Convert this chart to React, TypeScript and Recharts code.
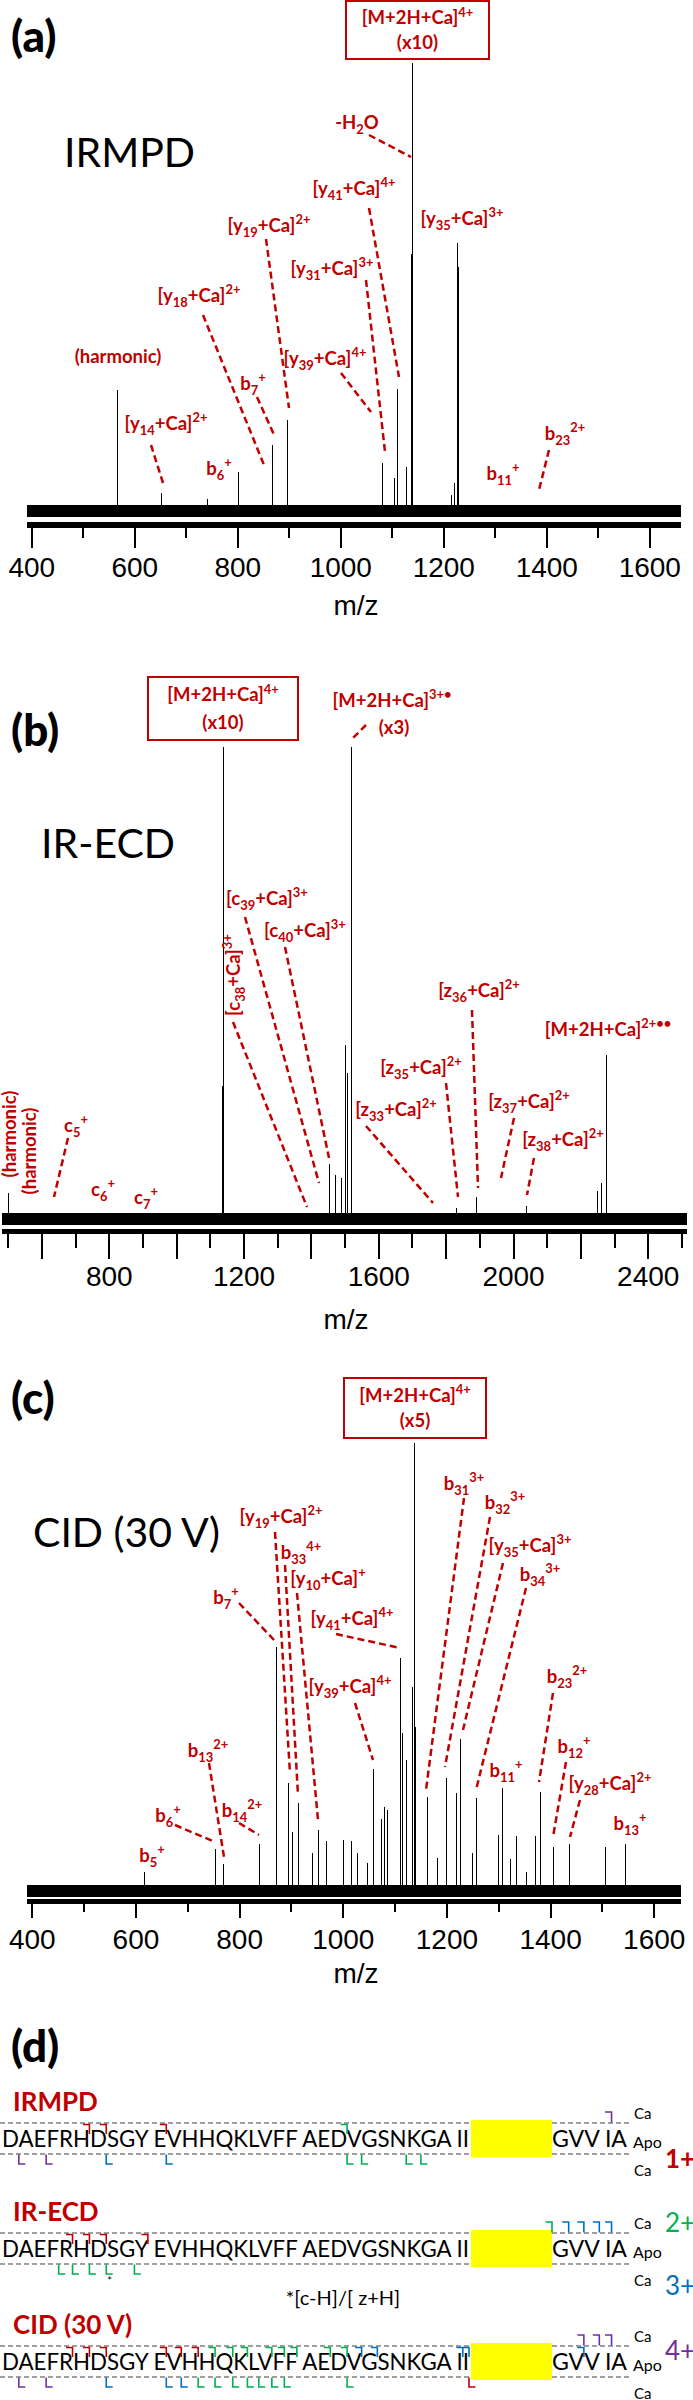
import React from 'react'
import { ComposedChart, Bar, XAxis, YAxis, ReferenceArea } from 'recharts'

// Three tandem-MS spectra of Ca-bound Abeta42 + sequence coverage map

const RED = '#c00000'
const GREEN = '#00b050'
const BLUE = '#0070c0'
const PURPLE = '#7030a0'
const LABEL_FONT = "Lato, 'Noto Sans', sans-serif"
const AXIS_FONT = "'Liberation Sans', Arial, sans-serif"

// (a) IRMPD — m/z and relative intensity (precursor x10 = 100)
const irmpdMz = [552, 566, 652, 684, 741, 754, 801, 851, 868, 886, 897, 1055, 1059, 1081, 1105, 1110, 1128, 1134.5, 1137, 1139, 1215, 1221, 1227, 1228.5, 1307, 1379]
const irmpdIntensity = [4.2, 28, 5.3, 3.7, 4.0, 6.4, 9.9, 9.7, 15.9, 4.8, 21.4, 7.7, 20.7, 11.9, 8.6, 28.2, 11.0, 77.5, 58, 100, 4.8, 7.5, 60.4, 55, 4.8, 3.3]
const irmpdTicks = [400, 500, 600, 700, 800, 900, 1000, 1100, 1200, 1300, 1400, 1500, 1600]
const irmpdMajor = [400, 600, 800, 1000, 1200, 1400, 1600]
const irmpdTickLabels = [400, 600, 800, 1000, 1200, 1400, 1600]

// (b) IR-ECD
const ecdMz = [500, 630, 764, 1136.5, 1139, 1141, 1420, 1446, 1453, 1472, 1490, 1502, 1508, 1519, 1761, 1831, 1891, 1960, 2038, 2250, 2261, 2276, 2281]
const ecdIntensity = [6.7, 2.7, 3.3, 29, 100, 27, 6.9, 10.5, 12.8, 10.5, 9.8, 37.7, 31.8, 100, 3.1, 3.6, 5.9, 6.7, 4.0, 7.1, 8.8, 35.6, 18.2]
const ecdTicks = [500, 600, 700, 800, 900, 1000, 1100, 1200, 1300, 1400, 1500, 1600, 1700, 1800, 1900, 2000, 2100, 2200, 2300, 2400, 2500]
const ecdMajor = [600, 800, 1000, 1200, 1400, 1600, 1800, 2000, 2200, 2400]
const ecdTickLabels = [800, 1200, 1600, 2000, 2400]

// (c) CID (30 V)
const cidMz = [617, 753, 769, 824, 838, 871, 895, 902, 913, 940, 952, 967, 1001, 1016, 1027, 1047, 1059, 1074, 1080, 1086, 1110, 1115, 1122, 1133, 1138, 1140, 1162, 1182, 1199, 1219, 1227, 1250, 1257, 1300, 1307, 1323, 1334, 1353, 1371, 1380, 1406, 1436, 1506, 1544]
const cidIntensity = [5.5, 10.6, 7.3, 5.9, 11.7, 55.1, 25.1, 14.3, 20.7, 9.7, 14.8, 12.3, 12.6, 12.3, 9.7, 7.5, 28.2, 17.2, 19.8, 19.2, 52.6, 36.1, 30.2, 46.3, 100, 37.4, 22.0, 8.6, 26.2, 22.9, 34.8, 9.7, 21.8, 13.7, 24.0, 8.4, 13.4, 5.5, 13.4, 23.1, 11.0, 11.7, 11.0, 11.7]
const cidTicks = [400, 500, 600, 700, 800, 900, 1000, 1100, 1200, 1300, 1400, 1500, 1600]
const cidMajor = [400, 600, 800, 1000, 1200, 1400, 1600]
const cidTickLabels = [400, 600, 800, 1000, 1200, 1400, 1600]

// (d) cleavage sites: [site after residue n, charge]
type Cut = [number, number]
const irmpdNApo: Cut[] = [[6, 1], [7, 1], [11, 1], [23, 2]]
const irmpdNCa: Cut[] = [[41, 4]]
const irmpdCCa: Cut[] = [[1, 4], [3, 4], [7, 3], [11, 3], [23, 2], [24, 2], [27, 2], [28, 2]]
const ecdNApo: Cut[] = [[5, 1], [6, 1], [7, 1], [10, 1]]
const ecdNCa: Cut[] = [[37, 2], [38, 3], [39, 3], [40, 3], [41, 3]]
const ecdCCa: Cut[] = [[4, 2], [5, 2], [6, 2], [7, 2], [9, 2]]
const cidNApo: Cut[] = [[5, 1], [6, 1], [7, 1], [11, 1], [12, 1], [13, 1], [14, 2], [15, 2], [16, 2], [18, 2], [19, 2], [20, 2], [22, 2], [23, 2], [24, 3], [25, 3], [31, 3], [32, 3], [39, 3]]
const cidNCa: Cut[] = [[39, 4], [40, 4], [41, 4]]
const cidCCa: Cut[] = [[1, 4], [3, 4], [7, 3], [11, 3], [12, 3], [13, 2], [14, 2], [15, 2], [16, 2], [17, 2], [18, 2], [19, 2], [23, 2], [32, 1]]

const SEQ_MAIN = 'DAEFRHDSGY EVHHQKLVFF AEDVGSNKGA II'
const SEQ_TAIL = 'GVV IA'

const chargeColor: Record<number, string> = { 1: RED, 2: GREEN, 3: BLUE, 4: PURPLE }

type Layout = {
  top: number
  height: number
  plotTop: number
  zeroY: number
  axisY: number
  left: number
  right: number
  domain: [number, number]
  axisWidth: number
  majorLen: number
  minorLen: number
  labelDy: number
  noise: number
}

const layoutA: Layout = { top: 0, height: 600, plotTop: 63, zeroY: 517, axisY: 525, left: 27.4, right: 12.3, domain: [391.5, 1660], axisWidth: 6, majorLen: 20, minorLen: 10, labelDy: 42, noise: 2.6 }
const layoutB: Layout = { top: 700, height: 600, plotTop: 747, zeroY: 1225, axisY: 1231.5, left: 2.2, right: 6, domain: [482, 2515], axisWidth: 5, majorLen: 25, minorLen: 14, labelDy: 44.5, noise: 2.5 }
const layoutC: Layout = { top: 1400, height: 580, plotTop: 1443, zeroY: 1897, axisY: 1901.5, left: 27.4, right: 12.3, domain: [390.5, 1651], axisWidth: 5, majorLen: 14, minorLen: 8, labelDy: 37.5, noise: 2.6 }

type SpectrumProps = {
  mz: number[]
  intensity: number[]
  ticks: number[]
  majors: number[]
  labels: number[]
  layout: Layout
}

function Spectrum({ mz, intensity, ticks, majors, labels, layout }: SpectrumProps) {
  const data = mz.map((m, i) => ({ mz: m, intensity: intensity[i] }))
  const pxPerUnit = (layout.zeroY - layout.plotTop) / 100
  const yMin = -(layout.axisY - layout.zeroY) / pxPerUnit
  const xAxisHeight = 60
  const marginBottom = layout.height - (layout.axisY - layout.top) - xAxisHeight

  const renderTick = (props: any) => {
    const { x, y, payload } = props
    const v = payload.value
    const y0 = y + layout.axisWidth / 2
    const len = majors.includes(v) ? layout.majorLen : layout.minorLen
    return (
      <g>
        <line x1={x} x2={x} y1={y0} y2={y0 + len} stroke="#000" strokeWidth={2} />
        {labels.includes(v) && (
          <text x={x} y={y + layout.labelDy + 10} textAnchor="middle" fontSize={28} fontFamily={AXIS_FONT} fill="#000">
            {v}
          </text>
        )}
      </g>
    )
  }

  return (
    <div style={{ position: 'absolute', left: 0, top: layout.top }}>
      <ComposedChart
        width={693}
        height={layout.height}
        data={data}
        style={{ shapeRendering: 'crispEdges' }}
        margin={{ top: layout.plotTop - layout.top, right: layout.right, bottom: marginBottom, left: layout.left }}
      >
        <XAxis
          dataKey="mz"
          type="number"
          domain={layout.domain}
          allowDataOverflow
          ticks={ticks}
          interval={0}
          tick={renderTick}
          tickLine={false}
          tickSize={0}
          tickMargin={0}
          axisLine={{ stroke: '#000', strokeWidth: layout.axisWidth }}
          height={xAxisHeight}
        />
        <YAxis hide width={0} type="number" domain={[yMin, 100]} allowDataOverflow />
        <ReferenceArea x1={layout.domain[0]} x2={layout.domain[1]} y1={0} y2={layout.noise} fill="#000" fillOpacity={1} stroke="none" />
        <Bar dataKey="intensity" fill="#000" barSize={2} isAnimationActive={false} />
      </ComposedChart>
    </div>
  )
}

type RichProps = { t: string; x: number; y: number; size?: number; color?: string; weight?: number; rot?: number; anchor?: 'start' | 'middle' | 'end' }

// "_{..}" = subscript, "^{..}" = superscript
function Rich({ t, x, y, size = 18.5, color = RED, weight = 700, rot = 0, anchor = 'middle' }: RichProps) {
  const parts = t.split(/(_\{[^}]*\}|\^\{[^}]*\})/).filter((p) => p !== '')
  let shift = 0
  const spans = parts.map((p, i) => {
    let target = 0
    let txt = p
    let fs: number | undefined
    if (p.startsWith('_{')) {
      target = size * 0.28
      txt = p.slice(2, -1)
      fs = size * 0.7
    } else if (p.startsWith('^{')) {
      target = -size * 0.4
      txt = p.slice(2, -1)
      fs = size * 0.7
    }
    const dy = target - shift
    shift = target
    return (
      <tspan key={i} dy={dy} fontSize={fs}>
        {txt}
      </tspan>
    )
  })
  return (
    <text
      x={x}
      y={y + size * 0.3}
      textAnchor={anchor}
      fontSize={size}
      fontWeight={weight}
      fill={color}
      fontFamily={LABEL_FONT}
      transform={rot ? `rotate(${rot} ${x} ${y})` : undefined}
    >
      {spans}
    </text>
  )
}

type Ann = { t: string; x: number; y: number; rot?: number; lead?: [number, number, number, number] }

const annA: Ann[] = [
  { t: '-H_{2}O', x: 357, y: 123, lead: [369, 135, 411, 157] },
  { t: '[y_{41}+Ca]^{4+}', x: 354, y: 189, lead: [369, 208, 399, 377] },
  { t: '[y_{35}+Ca]^{3+}', x: 462, y: 219 },
  { t: '[y_{19}+Ca]^{2+}', x: 269, y: 226, lead: [266, 239, 289, 408] },
  { t: '[y_{31}+Ca]^{3+}', x: 332, y: 269, lead: [366, 280, 385, 452] },
  { t: '[y_{18}+Ca]^{2+}', x: 199, y: 296, lead: [203, 315, 264, 465] },
  { t: '(harmonic)', x: 118, y: 357 },
  { t: 'b_{7}^{+}', x: 253, y: 384, lead: [257, 397, 275, 437] },
  { t: '[y_{39}+Ca]^{4+}', x: 325, y: 359, lead: [341, 373, 371, 412] },
  { t: '[y_{14}+Ca]^{2+}', x: 166, y: 424, lead: [151, 445, 163, 483] },
  { t: 'b_{6}^{+}', x: 219, y: 469 },
  { t: 'b_{11}^{+}', x: 503, y: 474 },
  { t: 'b_{23}^{2+}', x: 565, y: 434, lead: [549, 450, 539, 490] },
]

const annB: Ann[] = [
  { t: '[M+2H+Ca]^{3+•}', x: 392, y: 701 },
  { t: '(x3)', x: 394, y: 728, lead: [366, 725, 352, 739] },
  { t: '[c_{39}+Ca]^{3+}', x: 267, y: 899, lead: [245, 917, 319, 1183] },
  { t: '[c_{40}+Ca]^{3+}', x: 305, y: 931, lead: [285, 947, 329, 1158] },
  { t: '[c_{38}+Ca]^{3+}', x: 234, y: 975, rot: -90, lead: [233, 1022, 307, 1207] },
  { t: '[z_{36}+Ca]^{2+}', x: 479, y: 991, lead: [472, 1010, 478, 1188] },
  { t: '[M+2H+Ca]^{2+••}', x: 608, y: 1030 },
  { t: '[z_{35}+Ca]^{2+}', x: 421, y: 1068, lead: [446, 1083, 458, 1197] },
  { t: '[z_{33}+Ca]^{2+}', x: 396, y: 1110, lead: [366, 1126, 433, 1203] },
  { t: '[z_{37}+Ca]^{2+}', x: 529, y: 1102, lead: [514, 1118, 501, 1178] },
  { t: '[z_{38}+Ca]^{2+}', x: 563, y: 1140, lead: [534, 1158, 527, 1195] },
  { t: '(harmonic)', x: 10, y: 1134, rot: -90 },
  { t: '(harmonic)', x: 30, y: 1151, rot: -90 },
  { t: 'c_{5}^{+}', x: 76, y: 1126, lead: [68, 1138, 54, 1197] },
  { t: 'c_{6}^{+}', x: 103, y: 1190 },
  { t: 'c_{7}^{+}', x: 146, y: 1198 },
]

const annC: Ann[] = [
  { t: 'b_{31}^{3+}', x: 464, y: 1484, lead: [464, 1498, 426, 1790] },
  { t: 'b_{32}^{3+}', x: 505, y: 1503, lead: [490, 1517, 445, 1767] },
  { t: '[y_{35}+Ca]^{3+}', x: 530, y: 1546, lead: [503, 1563, 463, 1730] },
  { t: 'b_{34}^{3+}', x: 540, y: 1575, lead: [526, 1588, 476, 1790] },
  { t: '[y_{19}+Ca]^{2+}', x: 281, y: 1517, lead: [275, 1532, 290, 1773] },
  { t: 'b_{33}^{4+}', x: 301, y: 1553, lead: [285, 1565, 298, 1795] },
  { t: '[y_{10}+Ca]^{+}', x: 328, y: 1579, lead: [297, 1593, 318, 1820] },
  { t: 'b_{7}^{+}', x: 226, y: 1598, lead: [239, 1603, 274, 1640] },
  { t: '[y_{41}+Ca]^{4+}', x: 352, y: 1619, lead: [336, 1634, 400, 1648] },
  { t: '[y_{39}+Ca]^{4+}', x: 350, y: 1687, lead: [355, 1703, 373, 1760] },
  { t: 'b_{23}^{2+}', x: 567, y: 1677, lead: [553, 1693, 539, 1782] },
  { t: 'b_{12}^{+}', x: 574, y: 1747, lead: [566, 1762, 553, 1837] },
  { t: '[y_{28}+Ca]^{2+}', x: 610, y: 1784, lead: [580, 1800, 570, 1837] },
  { t: 'b_{11}^{+}', x: 506, y: 1771 },
  { t: 'b_{13}^{+}', x: 630, y: 1824 },
  { t: 'b_{13}^{2+}', x: 208, y: 1751, lead: [209, 1763, 224, 1857] },
  { t: 'b_{14}^{2+}', x: 242, y: 1811, lead: [239, 1823, 259, 1835] },
  { t: 'b_{6}^{+}', x: 168, y: 1816, lead: [175, 1825, 215, 1842] },
  { t: 'b_{5}^{+}', x: 152, y: 1856 },
]

function Annotations({ items }: { items: Ann[] }) {
  return (
    <g>
      {items.map((a, i) => (
        <g key={i}>
          {a.lead && (
            <line x1={a.lead[0]} y1={a.lead[1]} x2={a.lead[2]} y2={a.lead[3]} stroke={RED} strokeWidth={2.5} strokeDasharray="7 4" />
          )}
          <Rich t={a.t} x={a.x} y={a.y} rot={a.rot} />
        </g>
      ))}
    </g>
  )
}

function PrecursorBox({ x, y, w, h, scale }: { x: number; y: number; w: number; h: number; scale: string }) {
  const cx = x + w / 2
  return (
    <g>
      <rect x={x} y={y} width={w} height={h} fill="#fff" stroke={RED} strokeWidth={2} />
      <Rich t="[M+2H+Ca]^{4+}" x={cx} y={y + h * 0.3} />
      <Rich t={scale} x={cx} y={y + h * 0.73} />
    </g>
  )
}

// sequence map geometry
const SEQ_SIZE = 24
const MAIN_X = 2
const MAIN_LEN = 467
const TAIL_X = 552
const TAIL_LEN = 75
const DASH_END = 632

function useSiteX() {
  return React.useMemo(() => {
    const ctx = document.createElement('canvas').getContext('2d') as CanvasRenderingContext2D
    ctx.font = `${SEQ_SIZE}px Lato`
    const kMain = MAIN_LEN / ctx.measureText(SEQ_MAIN).width
    const kTail = TAIL_LEN / ctx.measureText(SEQ_TAIL).width
    const tailIdx: Record<number, number> = { 38: 0, 39: 1, 40: 2, 41: 4, 42: 5 }
    return (site: number) => {
      if (site <= 32) {
        const idx = site - 1 + Math.floor((site - 1) / 10)
        return MAIN_X + ctx.measureText(SEQ_MAIN.slice(0, idx + 1)).width * kMain
      }
      if (site <= 37) return TAIL_X
      return TAIL_X + ctx.measureText(SEQ_TAIL.slice(0, tailIdx[site] + 1)).width * kTail
    }
  }, [])
}

type RowProps = { title: string; dash: number; nApo: Cut[]; nCa: Cut[]; cCa: Cut[]; siteX: (s: number) => number; star?: number }

function SeqRow({ title, dash, nApo, nCa, cCa, siteX, star }: RowProps) {
  const bot = dash + 31
  const mk = 6.5
  return (
    <g>
      <text x={13} y={dash - 12} fontSize={26} fontWeight={700} fill={RED} fontFamily={LABEL_FONT}>
        {title}
      </text>
      <line x1={0} x2={DASH_END} y1={dash} y2={dash} stroke="#808080" strokeWidth={1.5} strokeDasharray="5 3" />
      <line x1={0} x2={DASH_END} y1={bot} y2={bot} stroke="#808080" strokeWidth={1.5} strokeDasharray="5 3" />
      <text x={MAIN_X} y={dash + 24} fontSize={SEQ_SIZE} fontFamily={LABEL_FONT} fill="#000" textLength={MAIN_LEN} lengthAdjust="spacingAndGlyphs">
        {SEQ_MAIN}
      </text>
      <text x={TAIL_X} y={dash + 24} fontSize={SEQ_SIZE} fontFamily={LABEL_FONT} fill="#000" textLength={TAIL_LEN} lengthAdjust="spacingAndGlyphs">
        {SEQ_TAIL}
      </text>
      <rect x={471} y={dash - 3} width={81} height={bot - dash + 6} fill="#ffff00" />
      <text x={634} y={dash - 4} fontSize={15} fontFamily={LABEL_FONT} fill="#000">Ca</text>
      <text x={633} y={dash + 25} fontSize={16} fontFamily={LABEL_FONT} fill="#000">Apo</text>
      <text x={634} y={bot + 22} fontSize={15} fontFamily={LABEL_FONT} fill="#000">Ca</text>
      {nApo.map(([s, z], i) => {
        const x = siteX(s)
        return <polyline key={'na' + i} points={`${x - mk},${dash + 1.5} ${x},${dash + 1.5} ${x},${dash + 11}`} fill="none" stroke={chargeColor[z]} strokeWidth={1.6} />
      })}
      {nCa.map(([s, z], i) => {
        const x = siteX(s)
        return <polyline key={'nc' + i} points={`${x - mk},${dash - 11} ${x},${dash - 11} ${x},${dash - 0.5}`} fill="none" stroke={chargeColor[z]} strokeWidth={1.6} />
      })}
      {cCa.map(([s, z], i) => {
        const x = siteX(s)
        return <polyline key={'cc' + i} points={`${x},${bot + 0.5} ${x},${bot + 10} ${x + mk},${bot + 10}`} fill="none" stroke={chargeColor[z]} strokeWidth={1.6} />
      })}
      {star !== undefined && (
        <text x={siteX(star) + 1} y={bot + 21} fontSize={11} fontFamily={LABEL_FONT} fill="#000">*</text>
      )}
    </g>
  )
}

function Overlay() {
  const siteX = useSiteX()
  const big = { fontSize: 44, fontWeight: 900, fontFamily: LABEL_FONT, fill: '#000' }
  const method = { fontSize: 41, fontFamily: LABEL_FONT, fill: '#000' }
  const mz = { fontSize: 28, fontFamily: AXIS_FONT, fill: '#000', textAnchor: 'middle' as const }
  return (
    <svg width={693} height={2400} style={{ position: 'absolute', left: 0, top: 0, pointerEvents: 'none' }}>
      {/* (a) */}
      <text x={11} y={52} {...big}>(a)</text>
      <text x={64} y={167} {...method}>IRMPD</text>
      <PrecursorBox x={346} y={1} w={143} h={58} scale="(x10)" />
      <Annotations items={annA} />
      <text x={356} y={615} {...mz}>m/z</text>

      {/* (b) */}
      <text x={11} y={746} {...big}>(b)</text>
      <text x={41} y={858} {...method}>IR-ECD</text>
      <PrecursorBox x={148} y={677} w={150} h={63} scale="(x10)" />
      <Annotations items={annB} />
      <text x={346} y={1329} {...mz}>m/z</text>

      {/* (c) */}
      <text x={11} y={1414} {...big}>(c)</text>
      <text x={33} y={1547} {...method}>CID (30 V)</text>
      <PrecursorBox x={344} y={1378} w={142} h={60} scale="(x5)" />
      <Annotations items={annC} />
      <text x={356} y={1983} {...mz}>m/z</text>

      {/* (d) */}
      <text x={11} y={2062} {...big}>(d)</text>
      <SeqRow title="IRMPD" dash={2123} nApo={irmpdNApo} nCa={irmpdNCa} cCa={irmpdCCa} siteX={siteX} />
      <SeqRow title="IR-ECD" dash={2233} nApo={ecdNApo} nCa={ecdNCa} cCa={ecdCCa} siteX={siteX} star={7} />
      <SeqRow title="CID (30 V)" dash={2346} nApo={cidNApo} nCa={cidNCa} cCa={cidCCa} siteX={siteX} />
      <text x={343} y={2305} fontSize={20} fontFamily={LABEL_FONT} fill="#000" textAnchor="middle">*[c-H]/[ z+H]</text>
      <text x={665} y={2168} fontSize={26} fontWeight={700} fontFamily={LABEL_FONT} fill={RED}>1+</text>
      <text x={665} y={2232} fontSize={26} fontFamily={LABEL_FONT} fill={GREEN}>2+</text>
      <text x={665} y={2295} fontSize={26} fontFamily={LABEL_FONT} fill={BLUE}>3+</text>
      <text x={665} y={2360} fontSize={26} fontFamily={LABEL_FONT} fill={PURPLE}>4+</text>
    </svg>
  )
}

export default function App() {
  return (
    <div style={{ position: 'relative', width: 693, height: 2400, overflow: 'hidden', background: '#fff' }}>
      <style>{'body{margin:0}'}</style>
      <Spectrum mz={irmpdMz} intensity={irmpdIntensity} ticks={irmpdTicks} majors={irmpdMajor} labels={irmpdTickLabels} layout={layoutA} />
      <Spectrum mz={ecdMz} intensity={ecdIntensity} ticks={ecdTicks} majors={ecdMajor} labels={ecdTickLabels} layout={layoutB} />
      <Spectrum mz={cidMz} intensity={cidIntensity} ticks={cidTicks} majors={cidMajor} labels={cidTickLabels} layout={layoutC} />
      <Overlay />
    </div>
  )
}
